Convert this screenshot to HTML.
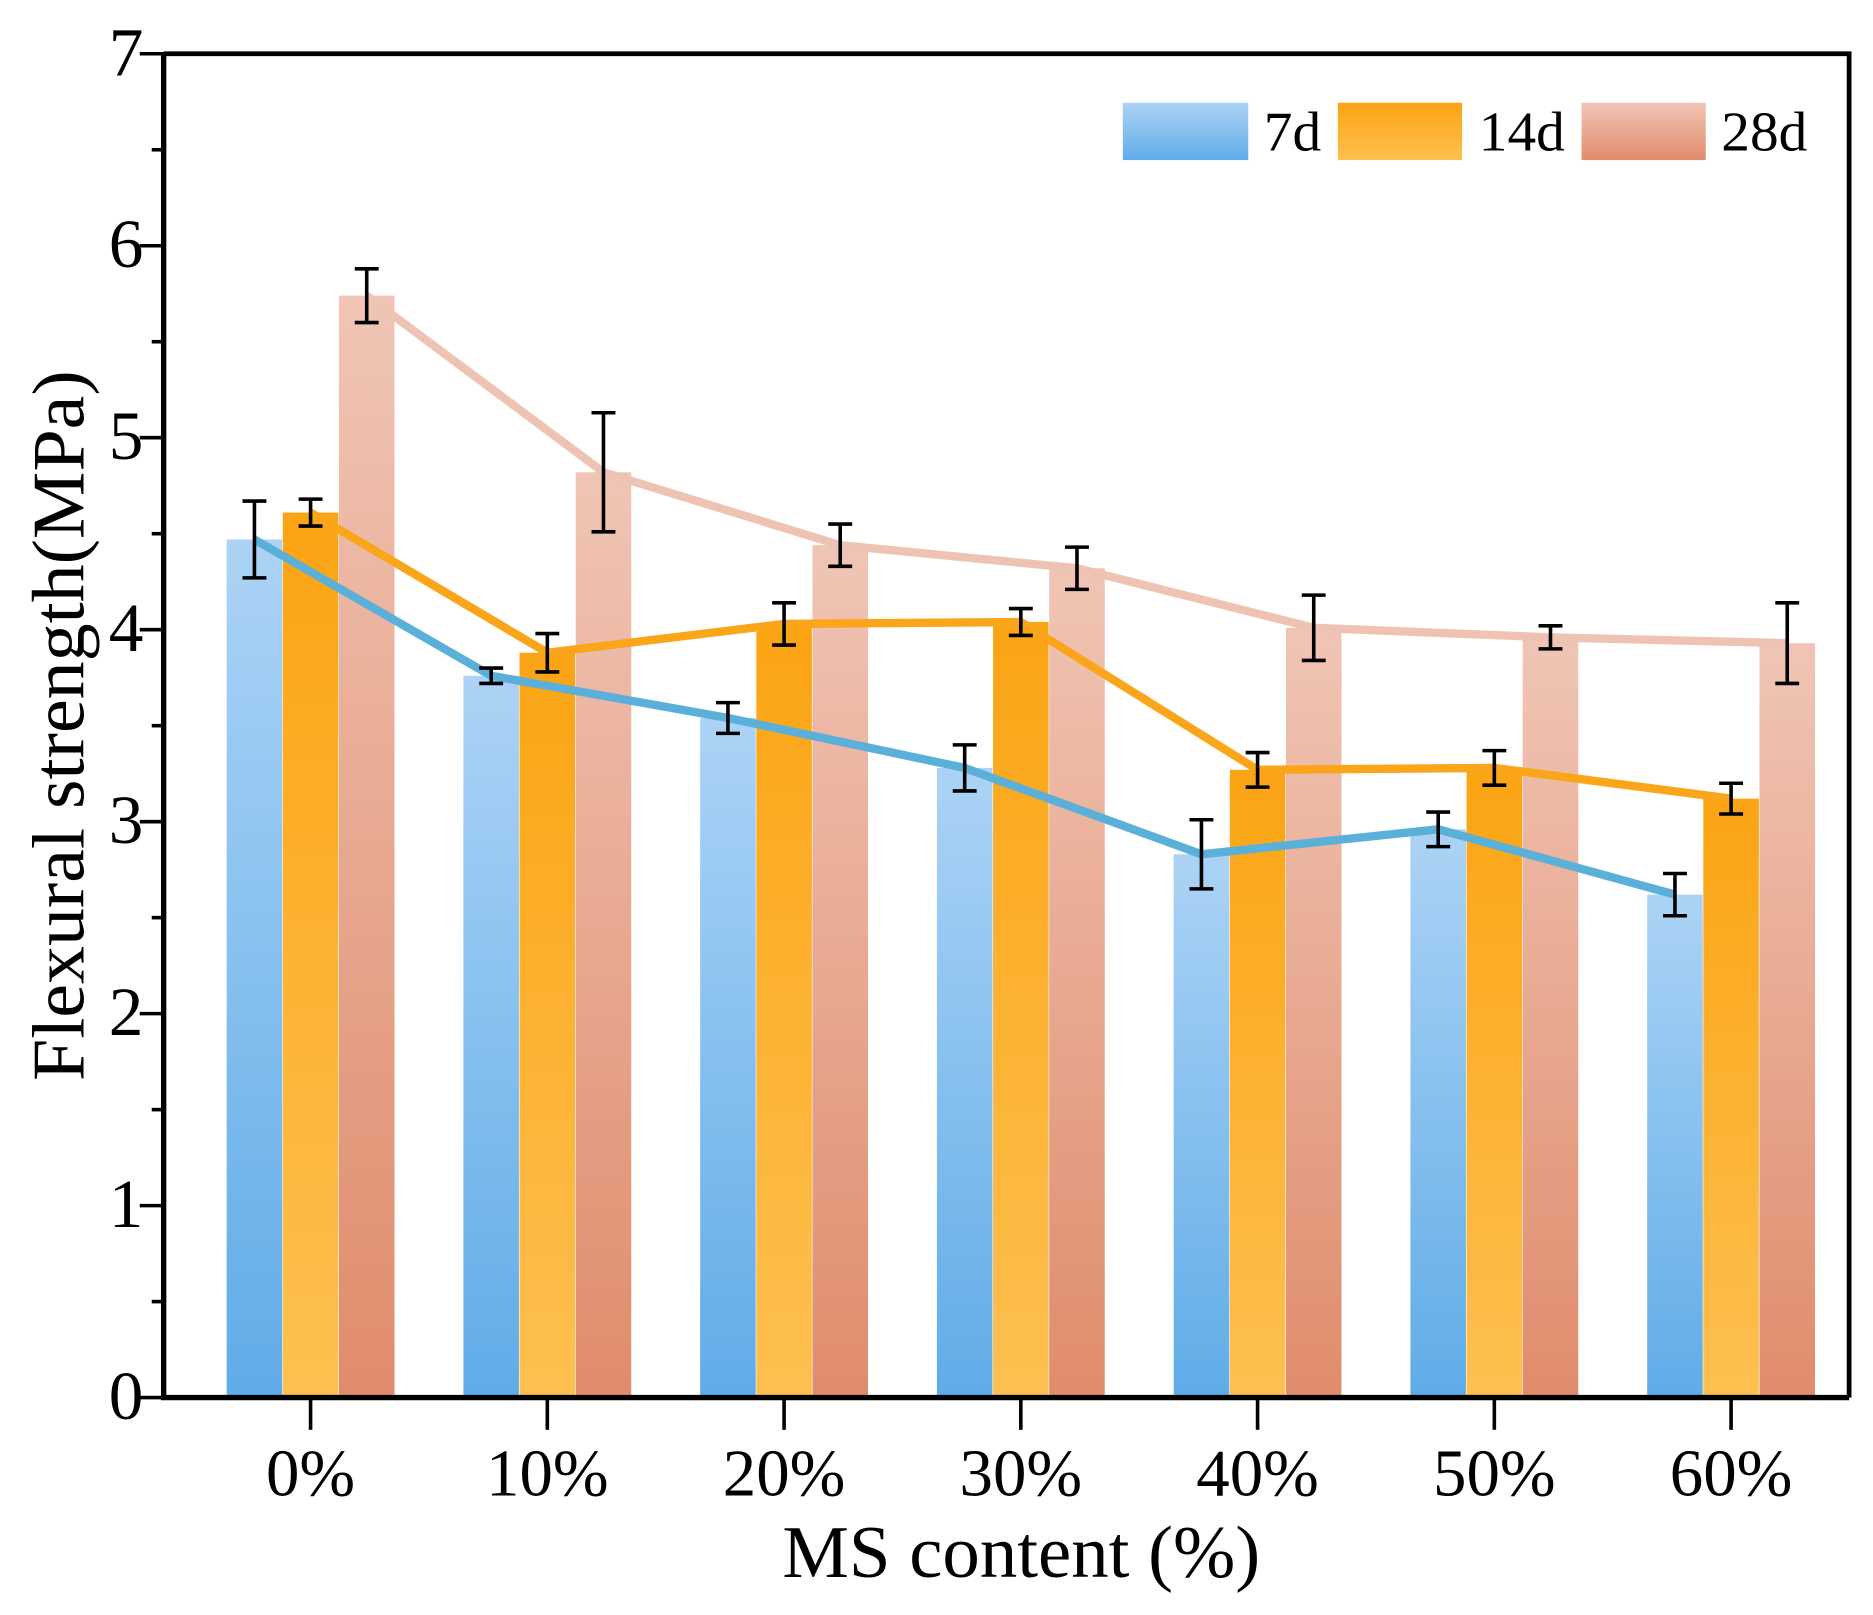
<!DOCTYPE html>
<html><head><meta charset="utf-8"><style>html,body{margin:0;padding:0;background:#fff}svg{display:block}text{font-family:"Liberation Serif",serif;fill:#000}</style></head>
<body>
<svg id="chart" width="1873" height="1615" viewBox="0 0 1568 1352" xmlns="http://www.w3.org/2000/svg">
<defs>
<linearGradient id="g7" x1="0" y1="0" x2="0" y2="1"><stop offset="0" stop-color="#acd3f5"/><stop offset="1" stop-color="#60ace8"/></linearGradient>
<linearGradient id="g14" x1="0" y1="0" x2="0" y2="1"><stop offset="0" stop-color="#fba414"/><stop offset="1" stop-color="#fdc050"/></linearGradient>
<linearGradient id="g28" x1="0" y1="0" x2="0" y2="1"><stop offset="0" stop-color="#f0c5b5"/><stop offset="1" stop-color="#e08c6c"/></linearGradient>
</defs>
<g id="bars"></g><g id="lines"></g><g id="errs"></g><g id="axes"></g>
<g>
<rect x="940" y="86" width="105" height="48" fill="url(#g7)"/>
<text x="1058" y="126" font-size="47" textLength="48" lengthAdjust="spacingAndGlyphs">7d</text>
<rect x="1120" y="86" width="104" height="48" fill="url(#g14)"/>
<text x="1238" y="126" font-size="47" textLength="72" lengthAdjust="spacingAndGlyphs">14d</text>
<rect x="1324" y="86" width="104" height="48" fill="url(#g28)"/>
<text x="1441" y="126" font-size="47" textLength="72" lengthAdjust="spacingAndGlyphs">28d</text>
</g>
<text x="655" y="1320" font-size="62" textLength="400" lengthAdjust="spacingAndGlyphs">MS content (%)</text>
<text transform="translate(70,905) rotate(-90)" font-size="62" textLength="595" lengthAdjust="spacingAndGlyphs">Flexural strength(MPa)</text>
</svg>
<script>
const categories = ["0%","10%","20%","30%","40%","50%","60%"];
const seriesNames = ["7d","14d","28d"];
const values7 = [4.47,3.76,3.54,3.28,2.83,2.96,2.62];
const values14 = [4.61,3.88,4.03,4.04,3.27,3.28,3.12];
const values28 = [5.74,4.82,4.44,4.32,4.01,3.96,3.93];
const err7 = [0.2,0.04,0.08,0.12,0.18,0.09,0.11];
const err14 = [0.07,0.1,0.11,0.07,0.09,0.09,0.08];
const err28 = [0.14,0.31,0.11,0.11,0.17,0.06,0.21];
const yTicks = [0,1,2,3,4,5,6,7];

const NS="http://www.w3.org/2000/svg";
const L=137,R=1548,T=45,B=1170,YMAX=7;
const y=v=>B-(B-T)*v/YMAX;
const step=198.2, x0=260;
const xc=i=>x0+i*step;
const bw=46.5;
const vals=[values7,values14,values28], errs=[err7,err14,err28];
const fills=["url(#g7)","url(#g14)","url(#g28)"];
const lineCols=["#5ab0d8","#faa51a","#efc3b3"];
const offs=[-47,0,47];
function mk(tag,attrs,parent){const e=document.createElementNS(NS,tag);for(const k in attrs)e.setAttribute(k,attrs[k]);document.getElementById(parent).appendChild(e);return e;}
vals.forEach((arr,s)=>{arr.forEach((v,i)=>{
 const r=mk('rect',{x:xc(i)+offs[s]-bw/2,y:y(v),width:bw,height:B-y(v),fill:fills[s]},'bars');
 
 
});});
[2,1,0].forEach(s=>{
 const pts=vals[s].map((v,i)=>(xc(i)+offs[s])+','+y(v)).join(' ');
 const p=mk('polyline',{points:pts,fill:'none',stroke:lineCols[s],'stroke-width':7,'stroke-linejoin':'round'},'lines');
 
 
});
vals.forEach((arr,s)=>{arr.forEach((v,i)=>{
 const cx=xc(i)+offs[s], e=errs[s][i];
 const g=mk('path',{d:`M${cx},${y(v+e)}V${y(v-e)}M${cx-10},${y(v+e)}H${cx+10}M${cx-10},${y(v-e)}H${cx+10}`,stroke:'#000','stroke-width':3,fill:'none'},'errs');
 
 
});});
const ax=mk('path',{d:`M${L},${T}V${B}H${R}`,stroke:'#000','stroke-width':4.5,fill:'none'},'axes');


const ar=mk('path',{d:`M${R},${B}V${T}H${L}`,stroke:'#000','stroke-width':4,fill:'none'},'axes');


yTicks.forEach(t=>{
 const tk=mk('path',{d:`M${L-20},${y(t)}H${L}`,stroke:'#000','stroke-width':3},'axes');
 
 
 if(t<YMAX){const mn=mk('path',{d:`M${L-10},${y(t+0.5)}H${L}`,stroke:'#000','stroke-width':3},'axes');
 
 }
 const tx=mk('text',{x:L-17,y:y(t)+18,'font-size':58,'text-anchor':'end'},'axes');
 tx.textContent=t;
 
 
});
categories.forEach((c,i)=>{
 const tk=mk('path',{d:`M${xc(i)},${B}V${B+27}`,stroke:'#000','stroke-width':3},'axes');
 
 
 const tx=mk('text',{x:xc(i),y:1252,'font-size':56,'text-anchor':'middle'},'axes');
 tx.textContent=c;
 
 
});
</script>
</body></html>
